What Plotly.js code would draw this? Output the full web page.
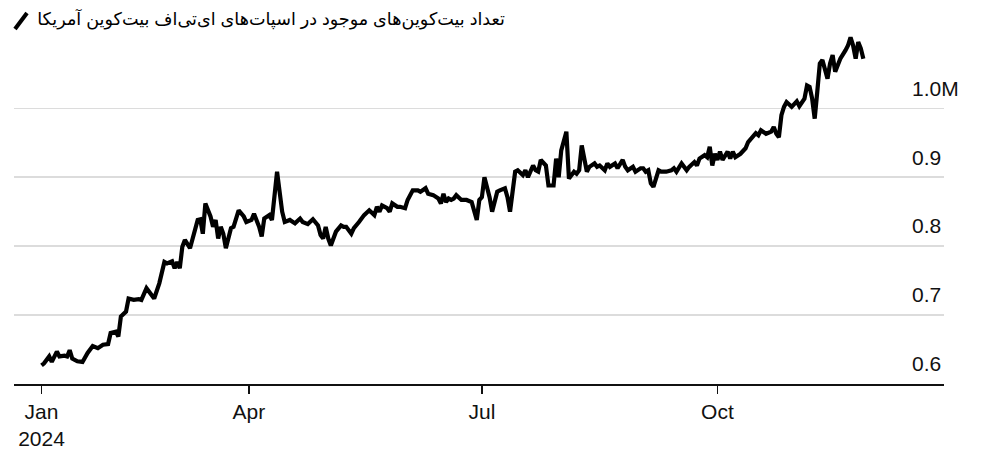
<!DOCTYPE html>
<html>
<head>
<meta charset="utf-8">
<script src="https://cdn.plot.ly/plotly-3.0.1.min.js"></script>
<style>
  html, body { margin: 0; padding: 0; background: #fff; }
  #chart { width: 986px; height: 460px; }
</style>
</head>
<body>
<div id="chart"></div>
<script>
// US spot bitcoin ETF holdings (million BTC)
var dates = [
  '2024-01-11','2024-01-12','2024-01-14','2024-01-15','2024-01-17','2024-01-18','2024-01-20','2024-01-21','2024-01-22','2024-01-23',
  '2024-01-25','2024-01-27','2024-01-29','2024-01-31','2024-02-02','2024-02-04','2024-02-06','2024-02-07','2024-02-09','2024-02-10',
  '2024-02-11','2024-02-13','2024-02-14','2024-02-16','2024-02-18','2024-02-19','2024-02-21','2024-02-23','2024-02-24','2024-02-26',
  '2024-02-27','2024-02-28','2024-02-29','2024-03-02','2024-03-03','2024-03-04','2024-03-05','2024-03-06','2024-03-07','2024-03-09',
  '2024-03-12','2024-03-13','2024-03-14','2024-03-15','2024-03-17','2024-03-18','2024-03-19','2024-03-20','2024-03-21','2024-03-22',
  '2024-03-23','2024-03-25','2024-03-26','2024-03-28','2024-03-30','2024-03-31','2024-04-02','2024-04-03','2024-04-05','2024-04-06',
  '2024-04-07','2024-04-09','2024-04-10','2024-04-12','2024-04-14','2024-04-15','2024-04-17','2024-04-19','2024-04-21','2024-04-22',
  '2024-04-24','2024-04-26','2024-04-28','2024-04-29','2024-04-30','2024-05-01','2024-05-02','2024-05-03','2024-05-05','2024-05-07',
  '2024-05-08','2024-05-09','2024-05-11','2024-05-12','2024-05-14','2024-05-16','2024-05-18','2024-05-19','2024-05-20','2024-05-21',
  '2024-05-22','2024-05-23','2024-05-25','2024-05-26','2024-05-27','2024-05-29','2024-05-30','2024-06-01','2024-06-02','2024-06-04',
  '2024-06-06','2024-06-07','2024-06-09','2024-06-10','2024-06-12','2024-06-14','2024-06-15','2024-06-16','2024-06-17','2024-06-18',
  '2024-06-19','2024-06-20','2024-06-21','2024-06-23','2024-06-24','2024-06-25','2024-06-27','2024-06-29','2024-06-30','2024-07-01',
  '2024-07-02','2024-07-04','2024-07-05','2024-07-07','2024-07-08','2024-07-10','2024-07-11','2024-07-12','2024-07-14','2024-07-15',
  '2024-07-17','2024-07-18','2024-07-19','2024-07-21','2024-07-22','2024-07-23','2024-07-24','2024-07-26','2024-07-27','2024-07-29',
  '2024-07-30','2024-07-31','2024-08-01','2024-08-03','2024-08-04','2024-08-05','2024-08-06','2024-08-07','2024-08-08','2024-08-09',
  '2024-08-11','2024-08-12','2024-08-14','2024-08-15','2024-08-16','2024-08-18','2024-08-19','2024-08-20','2024-08-22','2024-08-23',
  '2024-08-25','2024-08-26','2024-08-27','2024-08-29','2024-08-30','2024-09-01','2024-09-02','2024-09-03','2024-09-04','2024-09-05',
  '2024-09-06','2024-09-08','2024-09-09','2024-09-11','2024-09-13','2024-09-14','2024-09-15','2024-09-17','2024-09-19','2024-09-20',
  '2024-09-22','2024-09-23','2024-09-24','2024-09-26','2024-09-27','2024-09-28','2024-09-29','2024-09-30','2024-10-01','2024-10-02',
  '2024-10-03','2024-10-05','2024-10-06','2024-10-07','2024-10-08','2024-10-10','2024-10-12','2024-10-13','2024-10-14','2024-10-16',
  '2024-10-17','2024-10-18','2024-10-20','2024-10-22','2024-10-23','2024-10-24','2024-10-25','2024-10-26','2024-10-27','2024-10-28',
  '2024-10-30','2024-11-01','2024-11-02','2024-11-04','2024-11-05','2024-11-06','2024-11-07','2024-11-08','2024-11-09','2024-11-10',
  '2024-11-11','2024-11-12','2024-11-13','2024-11-14','2024-11-15','2024-11-16','2024-11-17','2024-11-18','2024-11-20','2024-11-21',
  '2024-11-22','2024-11-23','2024-11-24','2024-11-25','2024-11-26','2024-11-27'
];
var holdings = [
  0.627,0.630,0.640,0.632,0.647,0.640,0.641,0.640,0.649,0.637,
  0.633,0.632,0.645,0.655,0.652,0.657,0.658,0.674,0.676,0.669,
  0.698,0.705,0.724,0.722,0.723,0.722,0.739,0.729,0.724,0.746,
  0.763,0.777,0.775,0.778,0.768,0.777,0.768,0.799,0.809,0.797,
  0.838,0.839,0.818,0.862,0.843,0.828,0.838,0.811,0.828,0.818,
  0.797,0.826,0.828,0.852,0.843,0.835,0.838,0.847,0.828,0.814,
  0.840,0.845,0.838,0.908,0.850,0.835,0.838,0.833,0.840,0.835,
  0.832,0.839,0.830,0.816,0.811,0.828,0.811,0.801,0.821,0.830,
  0.828,0.828,0.818,0.826,0.835,0.845,0.852,0.848,0.845,0.857,
  0.850,0.859,0.855,0.850,0.862,0.857,0.857,0.855,0.867,0.881,
  0.881,0.879,0.884,0.876,0.874,0.869,0.862,0.876,0.864,0.869,
  0.867,0.869,0.874,0.867,0.867,0.867,0.864,0.838,0.867,0.871,
  0.900,0.871,0.850,0.879,0.881,0.884,0.871,0.850,0.908,0.910,
  0.903,0.910,0.900,0.917,0.910,0.908,0.925,0.917,0.888,0.888,
  0.927,0.900,0.939,0.966,0.898,0.903,0.908,0.905,0.910,0.946,
  0.908,0.915,0.920,0.915,0.917,0.910,0.920,0.915,0.920,0.913,
  0.925,0.915,0.910,0.915,0.908,0.913,0.913,0.908,0.910,0.891,
  0.886,0.910,0.908,0.908,0.910,0.913,0.908,0.920,0.910,0.915,
  0.922,0.917,0.927,0.932,0.929,0.944,0.917,0.934,0.925,0.937,
  0.925,0.937,0.927,0.937,0.929,0.934,0.942,0.951,0.956,0.964,
  0.961,0.968,0.963,0.966,0.973,0.963,0.958,0.990,1.002,1.009,
  1.002,1.010,1.003,1.014,1.033,1.031,1.014,0.985,1.024,1.065,
  1.070,1.053,1.043,1.065,1.077,1.053,1.062,1.072,1.084,1.091,
  1.103,1.091,1.072,1.096,1.087,1.072
];

var xTickVals = ['2024-01-11', '2024-04-01', '2024-07-01', '2024-10-01'];
var xTickText = ['Jan<br>2024', 'Apr', 'Jul', 'Oct'];
var yTickVals = [0.6, 0.7, 0.8, 0.9, 1.0];
var yTickText = ['0.6', '0.7', '0.8', '0.9', '1.0M'];

var titleText = 'تعداد بیت\u200cکوین\u200cهای موجود در اسپات\u200cهای ای\u200cتی\u200cاف بیت\u200cکوین آمریکا';

var trace = {
  x: dates,
  y: holdings,
  type: 'scatter',
  mode: 'lines',
  line: {color: '#000000', width: 4.2, shape: 'linear'},
  hoverinfo: 'skip'
};

var layout = {
  width: 986,
  height: 460,
  margin: {l: 14, r: 42, t: 29, b: 76},
  paper_bgcolor: '#ffffff',
  plot_bgcolor: '#ffffff',
  showlegend: false,
  font: {family: 'Liberation Sans, Arial, sans-serif', color: '#111111'},
  title: {
    text: titleText,
    font: {family: 'Liberation Sans, DejaVu Sans, sans-serif', size: 17.6, color: '#000000'},
    xref: 'container', x: 505 / 986, xanchor: 'right',
    yref: 'container', y: 1 - 19 / 460, yanchor: 'middle'
  },
  xaxis: {
    type: 'date',
    range: ['2023-12-31 06:00', '2024-12-28 12:00'],
    tickmode: 'array',
    tickvals: xTickVals,
    ticktext: xTickText,
    ticks: 'outside',
    ticklen: 8,
    tickwidth: 1.5,
    tickcolor: '#111111',
    showline: true,
    linecolor: '#111111',
    linewidth: 1.5,
    showgrid: false,
    zeroline: false,
    tickfont: {size: 21, color: '#111111'}
  },
  yaxis: {
    range: [0.6, 1.115],
    side: 'right',
    tickmode: 'array',
    tickvals: yTickVals,
    ticktext: yTickText,
    ticks: '',
    showline: false,
    zeroline: false,
    showgrid: true,
    gridcolor: '#dcdcdc',
    gridwidth: 1.5,
    ticklabelposition: 'outside',
    ticklabelstandoff: -33,
    ticklabelshift: -20,
    tickfont: {size: 21, color: '#111111'}
  },
  shapes: [{
    type: 'line',
    xref: 'paper', yref: 'paper',
    x0: (15 - 14) / 930, y0: (384 - 29) / 355,
    x1: (27 - 14) / 930, y1: (384 - 13) / 355,
    line: {color: '#000000', width: 4}
  }]
};

Plotly.newPlot('chart', [trace], layout, {staticPlot: true, displayModeBar: false});
</script>
</body>
</html>
